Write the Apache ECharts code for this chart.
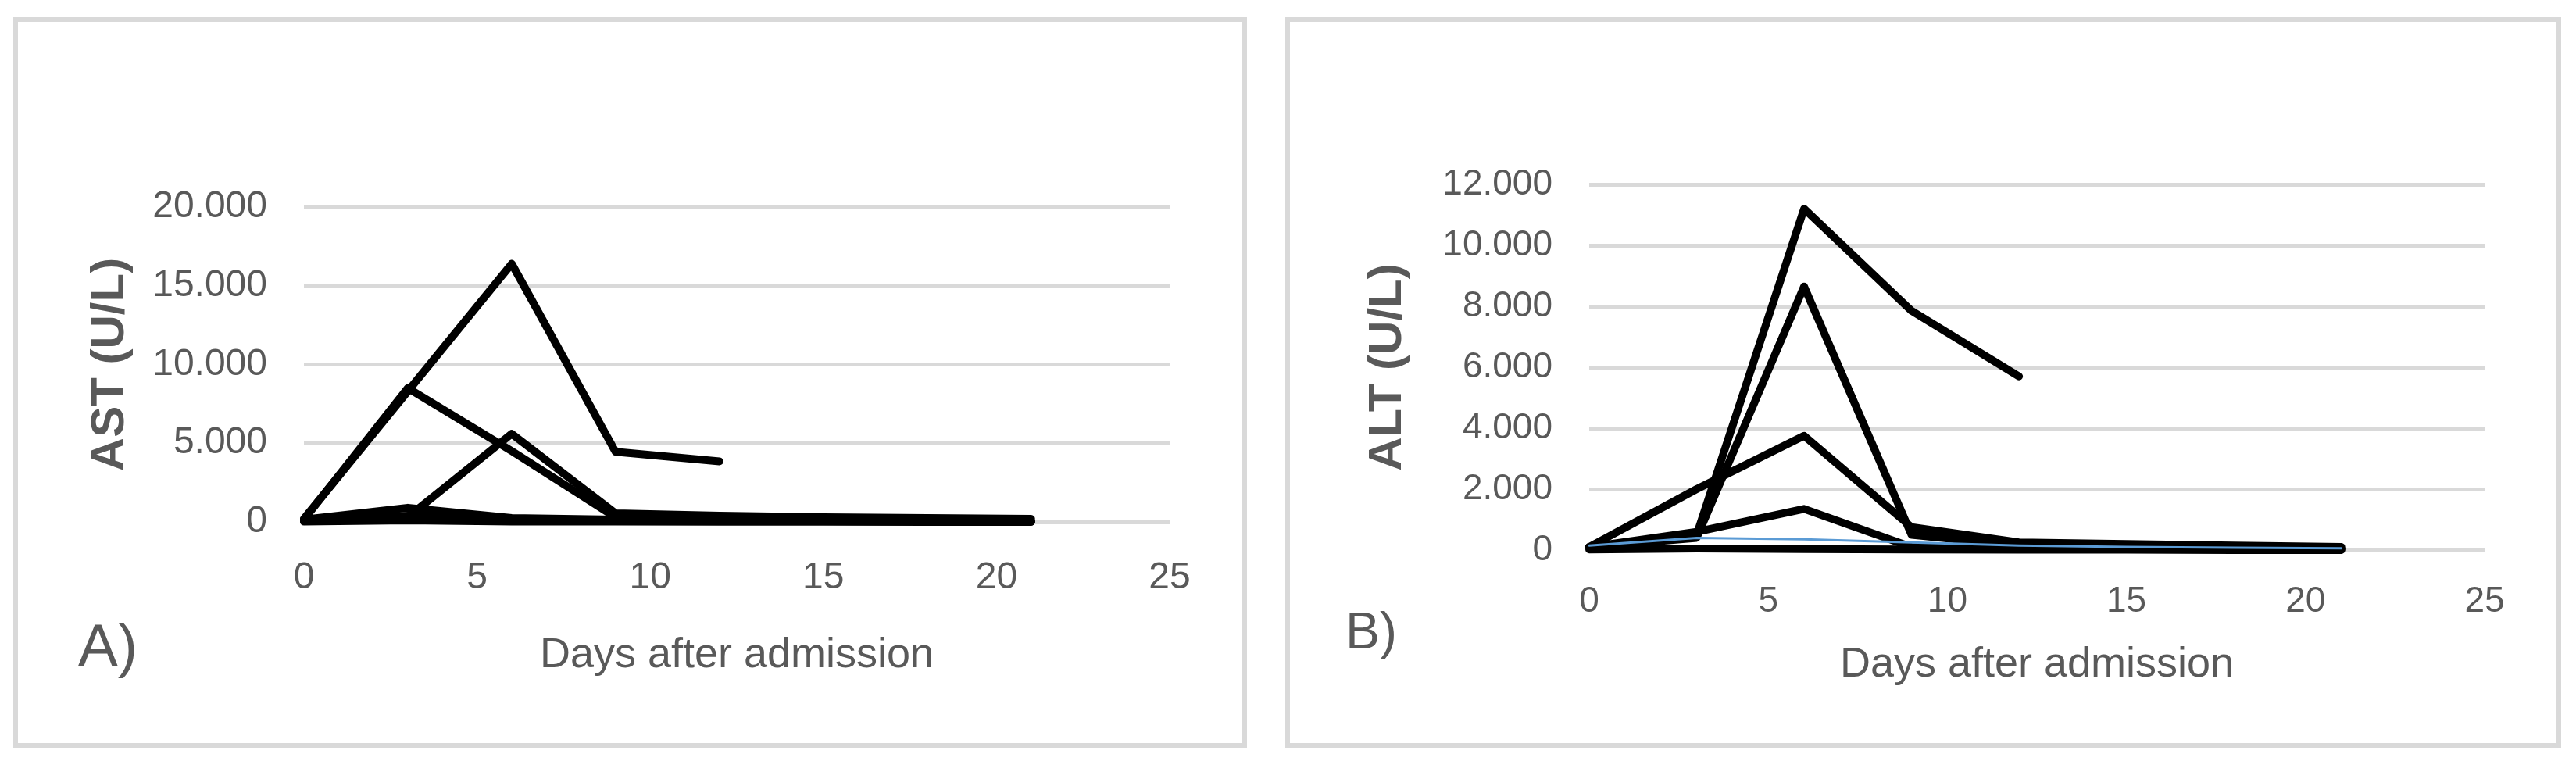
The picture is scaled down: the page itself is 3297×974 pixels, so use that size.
<!DOCTYPE html>
<html>
<head>
<meta charset="utf-8">
<script src="https://cdn.jsdelivr.net/npm/echarts@6/dist/echarts.min.js"></script>
<style>
  html, body { margin: 0; padding: 0; background: #ffffff; }
  #chart { width: 3297px; height: 974px; }
</style>
</head>
<body>
<div id="chart"></div>
<script>
// ---------- data ----------
const days = [0, 3, 6, 9, 12, 15, 18, 21];

// Panel A: AST (U/L)
const ast1 = [200, 8300, 16400, 4450, 3850];
const ast2 = [150, 8500, 4500, 300, 150, 100, 60, 20];
const ast3 = [100, 300, 5600, 550, 400, 300, 250, 200];
const ast4 = [150, 900, 250, 150, 100, 80, 60, 50];
const ast5 = [80, 400, 150, 100, 60, 50, 40, 30];
const ast6 = [20, 100, 30, 20, 10, 10, 0, 0];
const astSeries = [ast1, ast2, ast3, ast4, ast5, ast6];

// Panel B: ALT (U/L)
const alt1 = [100, 500, 11200, 7850, 5700];
const alt2 = [100, 400, 8650, 500, 150, 100, 60, 40];
const alt3 = [100, 2000, 3750, 750, 250, 200, 150, 100];
const alt4 = [100, 600, 1350, 100, 80, 60, 50, 40];
const alt5 = [20, 50, 30, 20, 10, 10, 0, 0];
const altBlack = [alt1, alt2, alt3, alt4, alt5];
const altBlue = [150, 400, 350, 250, 150, 100, 80, 60];

// axes
const xTicks = [0, 5, 10, 15, 20, 25];
const astTicks = [0, 5000, 10000, 15000, 20000];
const altTicks = [0, 2000, 4000, 6000, 8000, 10000, 12000];

const xTitle = 'Days after admission';
const astTitle = 'AST (U/L)';
const altTitle = 'ALT (U/L)';
const panelLabels = ['A)', 'B)'];

// ---------- helpers ----------
function pairs(vals) { return vals.map((v, i) => [days[i], v]); }
function fmt(v) { return String(v).replace(/\B(?=(\d{3})+(?!\d))/g, '.'); }

const FONT = 'Liberation Sans, Arial, sans-serif';
const GREY = '#595959';
const GRID = '#d9d9d9';

function blackLine(vals, xi) {
  return {
    type: 'line', xAxisIndex: xi, yAxisIndex: xi, data: pairs(vals),
    showSymbol: false, silent: true, animation: false,
    lineStyle: { color: '#000000', width: 10, cap: 'round', join: 'round' }
  };
}

function xAxisCfg(gi, fs, margin, nameGap) {
  return {
    type: 'value', gridIndex: gi, min: xTicks[0], max: xTicks[xTicks.length - 1],
    interval: xTicks[1] - xTicks[0],
    axisLine: { show: false }, axisTick: { show: false }, splitLine: { show: false },
    axisLabel: { color: GREY, fontFamily: FONT, fontSize: fs, lineHeight: fs, margin: margin },
    name: xTitle, nameLocation: 'middle', nameGap: nameGap,
    nameTextStyle: { color: GREY, fontFamily: FONT, fontSize: 54, lineHeight: 54 }
  };
}
function yAxisCfg(gi, ticks, fs, title, nameGap) {
  return {
    type: 'value', gridIndex: gi, min: ticks[0], max: ticks[ticks.length - 1],
    interval: ticks[1] - ticks[0],
    axisLine: { show: false }, axisTick: { show: false },
    splitLine: { show: true, lineStyle: { color: GRID, width: 5 } },
    axisLabel: { color: GREY, fontFamily: FONT, fontSize: fs, lineHeight: fs, margin: 47, formatter: fmt },
    name: title, nameLocation: 'middle', nameGap: nameGap,
    nameTextStyle: { color: GREY, fontFamily: FONT, fontSize: 60, lineHeight: 60, fontWeight: 'bold' }
  };
}

const series = [];
astSeries.forEach(s => series.push(blackLine(s, 0)));
altBlack.forEach(s => series.push(blackLine(s, 1)));
series.push({
  type: 'line', xAxisIndex: 1, yAxisIndex: 1, data: pairs(altBlue),
  showSymbol: false, silent: true, animation: false, z: 3,
  lineStyle: { color: '#5b9bd5', width: 3, cap: 'round', join: 'round' }
});

const chart = echarts.init(document.getElementById('chart'), null, { renderer: 'canvas' });
chart.setOption({
  backgroundColor: '#ffffff',
  animation: false,
  grid: [
    { left: 389, top: 265, width: 1108, height: 403 },
    { left: 2034, top: 236, width: 1146, height: 468 }
  ],
  xAxis: [xAxisCfg(0, 48, 48, 144), xAxisCfg(1, 46, 43, 120)],
  yAxis: [yAxisCfg(0, astTicks, 48, astTitle, 218), yAxisCfg(1, altTicks, 46, altTitle, 228)],
  series: series,
  graphic: [
    { type: 'rect', silent: true, z: -1, shape: { x: 20, y: 25, width: 1573, height: 929 },
      style: { fill: 'none', stroke: GRID, lineWidth: 6 } },
    { type: 'rect', silent: true, z: -1, shape: { x: 1648, y: 25, width: 1627, height: 929 },
      style: { fill: 'none', stroke: GRID, lineWidth: 6 } },
    { type: 'text', silent: true, left: 100, top: 793,
      style: { text: panelLabels[0], font: '76px ' + FONT, fill: GREY } },
    { type: 'text', silent: true, left: 1722, top: 779,
      style: { text: panelLabels[1], font: '66px ' + FONT, fill: GREY } }
  ]
});
</script>
</body>
</html>
